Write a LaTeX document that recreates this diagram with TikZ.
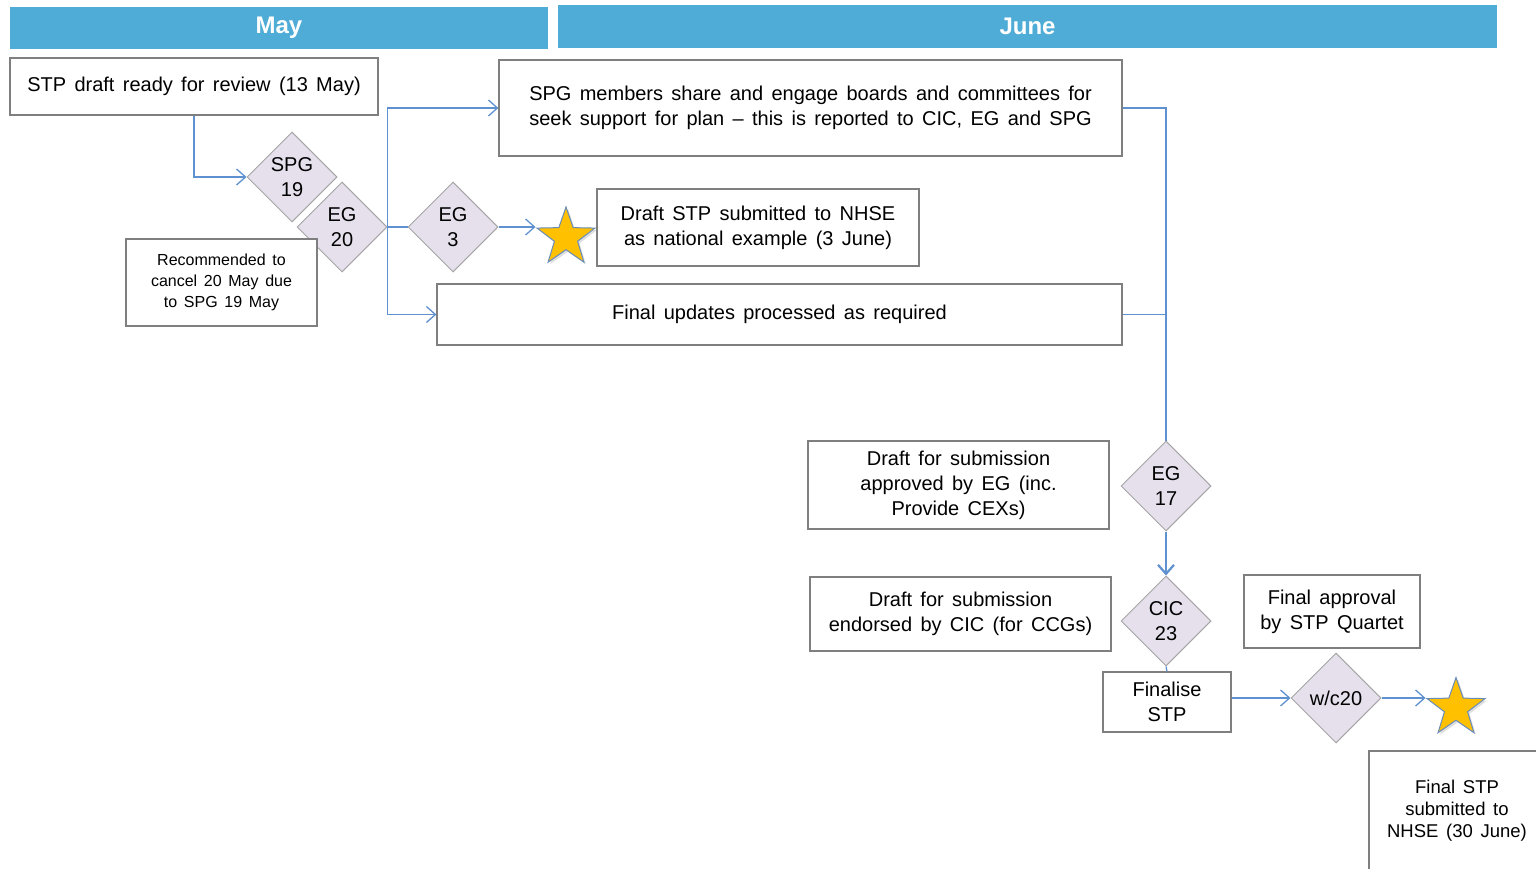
\documentclass[tikz,border=0pt]{standalone}
\usepackage{fontspec}
\setmainfont[WordSpace=1.5]{Liberation Sans}
\usetikzlibrary{shapes.geometric,arrows.meta,shadows}
\definecolor{monthblue}{RGB}{79,172,214}
\definecolor{boxgray}{RGB}{127,127,127}
\definecolor{gatefill}{RGB}{229,224,236}
\definecolor{gategray}{RGB}{166,166,166}
\definecolor{flowblue}{RGB}{95,144,208}
\definecolor{stargold}{RGB}{255,192,0}
\definecolor{starblue}{RGB}{105,140,185}
\begin{document}
\begin{tikzpicture}[x=1pt,y=-1pt,
  month/.style={fill=monthblue, text=white, inner sep=0pt, font=\bfseries\fontsize{24}{28}\selectfont},
  box/.style={draw=boxgray, line width=1.2pt, fill=white, align=center, inner sep=0pt, font=\fontsize{20}{25}\selectfont},
  gate/.style={diamond, draw=gategray, line width=1pt, fill=gatefill, minimum width=90pt, minimum height=90pt, inner sep=0pt, align=center, font=\fontsize{20}{25}\selectfont},
  goal/.style={star, star points=5, star point ratio=2.5, fill=stargold, draw=starblue, line width=1pt, minimum size=61pt, inner sep=0pt, drop shadow={opacity=0.25, shadow xshift=2pt, shadow yshift=-2pt}},
  link/.style={draw=flowblue, line width=1.3pt},
  flow/.style={link, -{Straight Barb[length=9pt,width=16pt]}}]
\useasboundingbox (0,0) rectangle (1536,869);
%\draw[help lines,yellow,thin] (0,0) grid[step=100] (1536,869);
\node [month, minimum width=538pt, minimum height=42pt] (may) at (279,28) {May};
\node [month, minimum width=939pt, minimum height=43pt] (june) at (1027.5,26.5) {June};
\node [box, minimum width=368pt, minimum height=57pt] (ready) at (194,86.5) {STP draft ready for review (13 May)};
\node [box, minimum width=623pt, minimum height=96pt] (share) at (810.5,108) {SPG members share and engage boards and committees for\\seek support for plan -- this is reported to CIC, EG and SPG};
\node [gate] (spg19) at (292,177) {SPG\\19};
\node [gate] (eg20) at (342,227) {EG\\20};
\node [gate] (eg3) at (453,227) {EG\\3};
\node [goal] (star1) at (566,237.5) {};
\node [box, minimum width=322pt, minimum height=77pt] (nhse) at (758,227.5) {Draft STP submitted to NHSE\\as national example (3 June)};
\node [box, minimum width=191pt, minimum height=87pt, font=\fontsize{16}{21}\selectfont] (cancel) at (221.5,282.5) {Recommended to\\cancel 20 May due\\to SPG 19 May};
\node [box, minimum width=685pt, minimum height=61pt] (updates) at (779.5,314.5) {Final updates processed as required};
\node [gate] (eg17) at (1166,486) {EG\\17};
\node [box, minimum width=301pt, minimum height=88pt] (approved) at (958.5,485) {Draft for submission\\approved by EG (inc.\\Provide CEXs)};
\node [gate] (cic23) at (1166,621) {CIC\\23};
\node [box, minimum width=301pt, minimum height=74pt] (endorsed) at (960.5,614) {Draft for submission\\endorsed by CIC (for CCGs)};
\node [box, minimum width=128pt, minimum height=60pt] (finalise) at (1167,702) {Finalise\\STP};
\node [box, minimum width=176pt, minimum height=73pt] (quartet) at (1332,611.5) {Final approval\\by STP Quartet};
\node [gate] (wc20) at (1336,698) {w/c20};
\node [goal] (star2) at (1456,708) {};
\node [box, minimum width=176pt, minimum height=120pt, font=\fontsize{18.5}{22}\selectfont] (final) at (1457,811) {Final STP\\submitted to\\NHSE (30 June)};
% May
\draw [flow] (ready.south) |- (spg19.west);
\draw [link] (eg20.east) -- (eg3.west);
\draw [flow] (eg20.east) |- (share.west);
\draw [flow] (eg20.east) |- (updates.west);
\draw [flow] (eg3.east) -- (eg3.east -| star1.outer point 2);
% June
\draw [link] (share.east) -| (eg17.north);
\draw [link] (updates.east) -- (updates.east -| eg17.north);
\draw [flow, line width=2.2pt] (eg17.south) -- (cic23.north);
\draw [link] (cic23.south) -- (finalise.north);
\draw [flow] (wc20.west -| finalise.east) -- (wc20.west);
\draw [flow] (wc20.east) -- (wc20.east -| star2.outer point 2);
\end{tikzpicture}
\end{document}
